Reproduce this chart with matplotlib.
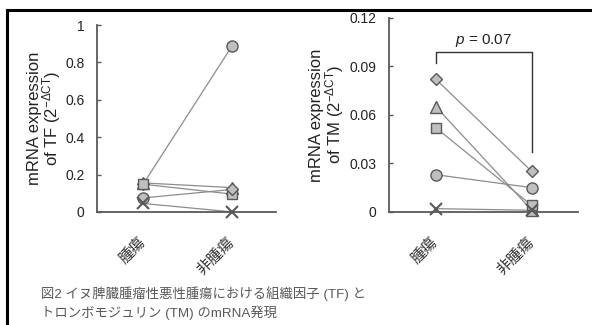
import matplotlib
matplotlib.use('Agg')
import matplotlib.pyplot as plt
import matplotlib.transforms as mtransforms
from matplotlib.lines import Line2D

plt.rcParams['font.family'] = ['Liberation Sans', 'Noto Sans CJK JP']
plt.rcParams['mathtext.fontset'] = 'custom'
plt.rcParams['mathtext.rm'] = 'Liberation Sans'
plt.rcParams['mathtext.it'] = 'Liberation Sans:italic'

# データ
groups = ['腫瘍', '非腫瘍']

# TF: 線の組 (腫瘍, 非腫瘍)
tf_tumor = [0.150, 0.155, 0.148, 0.075, 0.045]
tf_non = [0.890, 0.130, 0.095, 0.120, 0.000]
tf_tumor_markers = ['D', '^', 's', 'o', 'x']
tf_non_markers = ['o', '^', 's', 'D', 'x']

# TM
tm_tumor = [0.082, 0.065, 0.052, 0.023, 0.002]
tm_non = [0.025, 0.001, 0.004, 0.015, 0.001]
tm_markers = ['D', '^', 's', 'o', 'x']

tf_yticks = [0, 0.2, 0.4, 0.6, 0.8, 1]
tf_yticklabels = ['0', '0.2', '0.4', '0.6', '0.8', '1']
tm_yticks = [0, 0.03, 0.06, 0.09, 0.12]
tm_yticklabels = ['0', '0.03', '0.06', '0.09', '0.12']

p_text = r'$p$ = 0.07'
caption = '図2 イヌ脾臓腫瘤性悪性腫瘍における組織因子 (TF) と\nトロンボモジュリン (TM) のmRNA発現'

fill = '#bfbfbf'
edge = '#595959'
linec = '#8c8c8c'
msize = {'o': 8, 's': 7.5, '^': 8, 'D': 6, 'x': 8}

fig = plt.figure(figsize=(5.92, 3.25), dpi=100)
ax1 = fig.add_axes([0.164, 0.348, 0.302, 0.575])
ax2 = fig.add_axes([0.657, 0.348, 0.319, 0.597])


def draw_points(ax, x, vals, markers, z):
    for v, m in zip(vals, markers):
        if m == 'x':
            ax.plot(x, v, marker='x', ms=msize[m], mew=1.5, color=edge, zorder=z, clip_on=False)
        else:
            ax.plot(x, v, marker=m, ms=msize[m], mfc=fill, mec=edge, mew=1.0, zorder=z, clip_on=False)


def style(ax, yticks, ylabels, ylim, xlim):
    ax.set_ylim(ylim)
    ax.set_xlim(xlim)
    ax.set_yticks(yticks)
    ax.set_yticklabels(ylabels, fontsize=10, color='#222222')
    ax.set_xticks([0, 1])
    ax.set_xticklabels(groups, rotation=45, ha='right', va='center', rotation_mode='anchor',
                       fontsize=11, color='#333333')
    shift = mtransforms.ScaledTranslation(0.07, 0.06, fig.dpi_scale_trans)
    for lab in ax.get_xticklabels():
        lab.set_transform(lab.get_transform() + shift)
    ax.tick_params(axis='x', length=0, pad=20)
    ax.tick_params(axis='y', direction='in', length=3, width=1, color=edge, pad=9)
    for s in ['top', 'right']:
        ax.spines[s].set_visible(False)
    for s in ['left', 'bottom']:
        ax.spines[s].set_color(edge)
        ax.spines[s].set_linewidth(1.3)


# 左: TF
for a, b in zip(tf_tumor, tf_non):
    ax1.plot([0, 1], [a, b], color=linec, lw=0.9, zorder=2)
draw_points(ax1, 0, tf_tumor, tf_tumor_markers, 3)
draw_points(ax1, 1, tf_non, tf_non_markers, 3)
style(ax1, tf_yticks, tf_yticklabels, (0, 1), (-0.52, 1.49))
ax1.set_ylabel('mRNA expression\nof TF (2$^{-\\Delta\\mathrm{CT}}$)', fontsize=12, color='#222222',
               linespacing=0.9)
ax1.yaxis.set_label_coords(-0.19, 0.5)

# 右: TM
for a, b in zip(tm_tumor, tm_non):
    ax2.plot([0, 1], [a, b], color=linec, lw=0.9, zorder=2)
draw_points(ax2, 0, tm_tumor, tm_markers, 3)
draw_points(ax2, 1, tm_non, tm_markers, 3)
style(ax2, tm_yticks, tm_yticklabels, (0, 0.12), (-0.49, 1.48))
ax2.set_ylabel('mRNA expression\nof TM (2$^{-\\Delta\\mathrm{CT}}$)', fontsize=12, color='#222222',
               linespacing=0.9)
ax2.yaxis.set_label_coords(-0.23, 0.5)

# 有意差ブラケット
ax2.plot([0, 0, 1, 1], [0.092, 0.099, 0.099, 0.037], color='#333333', lw=1.0)
ax2.text(0.5, 0.1005, p_text, ha='center', va='bottom', fontsize=11, color='#222222')

# キャプション
fig.text(0.07, 0.118, caption, fontsize=9.6, color='#595959', ha='left', va='top', linespacing=1.35)

# 外枠
fig.add_artist(Line2D([0.011, 1.0], [0.97, 0.97], color='black', lw=2.2))
fig.add_artist(Line2D([0.011, 0.011], [0.0, 0.97], color='black', lw=2.2))

fig.savefig('out.png', dpi=100)
